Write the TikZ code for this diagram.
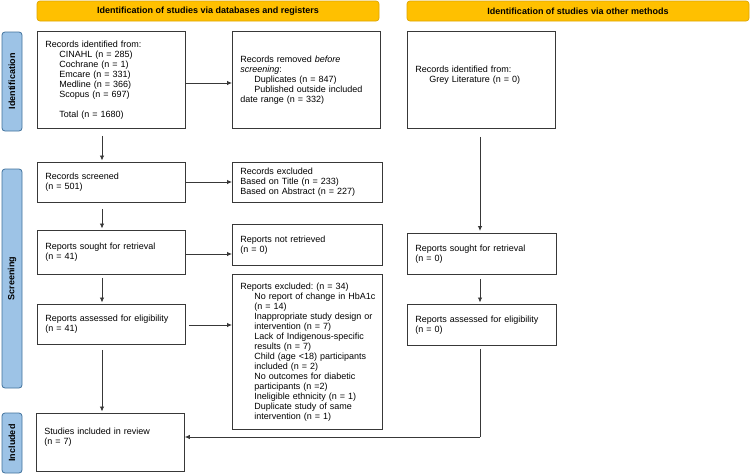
\documentclass[tikz,border=0pt]{standalone}
\usepackage{fontspec}
\setmainfont{Liberation Sans}
\usetikzlibrary{arrows.meta,calc}
\definecolor{hdr}{HTML}{FFC000}
\definecolor{hdrb}{HTML}{DDA500}
\definecolor{sidef}{HTML}{9DC3E6}
\definecolor{sideb}{HTML}{41719C}
\definecolor{ln}{HTML}{383838}
\newcommand{\ind}{\hspace*{14pt}}
\frenchspacing
\begin{document}
\begin{tikzpicture}[x=1pt,y=-1pt,
  box/.style={draw=ln, line width=0.8pt, rectangle, inner ysep=0pt, inner xsep=8pt,
    anchor=north west, font=\fontsize{9}{10}\selectfont, align=left},
  hdrbox/.style={draw=hdrb, fill=hdr, line width=0.7pt, rounded corners=3pt,
    minimum width=342pt, minimum height=20pt, inner sep=0pt,
    font=\bfseries\fontsize{9}{10}\selectfont},
  sidebox/.style={draw=sideb, fill=sidef, line width=0.8pt, rounded corners=3pt,
    rotate=90, minimum height=20pt, inner sep=0pt,
    font=\bfseries\fontsize{9}{10}\selectfont},
  arr/.style={draw=ln, line width=0.8pt, -{Latex[length=5pt,width=4.5pt]}},
  lnk/.style={draw=ln, line width=0.8pt}
]
\useasboundingbox (0,0) rectangle (750,474);

% headers
\node[hdrbox] (h1) at (208,11) {Identification of studies via databases and registers};
\node[hdrbox] (h2) at (578,11) {Identification of studies via other methods};

% side labels
\node[sidebox, minimum width=99pt] (s1) at (12,81.5) {Identification};
\node[sidebox, minimum width=219pt] (s2) at (12,278.5) {Screening};
\node[sidebox, minimum width=60pt] (s3) at (12,443) {Included};

% left column
\node[box, minimum width=148pt, minimum height=97pt, text width=132pt] (b1) at (37,31)
 {Records identified from:\\
  \ind CINAHL (n = 285)\\
  \ind Cochrane (n = 1)\\
  \ind Emcare (n = 331)\\
  \ind Medline (n = 366)\\
  \ind Scopus (n = 697)\\[10pt]
  \ind Total (n = 1680)};
\node[box, minimum width=148pt, minimum height=97pt, text width=132pt] (b2) at (232,31)
 {Records removed \textit{before}\\
  \textit{screening}:\\
  \ind Duplicates (n = 847)\\
  \ind Published outside included\\
  date range (n = 332)};
\node[box, minimum width=148pt, minimum height=40pt, text width=132pt] (b3) at (37,162)
 {Records screened\\(n = 501)};
\node[box, minimum width=150pt, minimum height=40pt, text width=134pt] (b4) at (232,162)
 {Records excluded\\Based on Title (n = 233)\\Based on Abstract (n = 227)};
\node[box, minimum width=148pt, minimum height=44pt, text width=132pt] (b5) at (37,230)
 {Reports sought for retrieval\\(n = 41)};
\node[box, minimum width=150pt, minimum height=41pt, text width=134pt] (b6) at (232,224)
 {Reports not retrieved\\(n = 0)};
\node[box, minimum width=148pt, minimum height=40pt, text width=132pt] (b7) at (37,304)
 {Reports assessed for eligibility\\(n = 41)};
\node[box, minimum width=150pt, minimum height=155pt, text width=134pt] (b8) at (232,274)
 {Reports excluded: (n = 34)\\
  \ind\mbox{No report of change in HbA1c}\\
  \ind (n = 14)\\
  \ind\mbox{Inappropriate study design or}\\
  \ind intervention (n = 7)\\
  \ind\mbox{Lack of Indigenous-specific}\\
  \ind results (n = 7)\\
  \ind\mbox{Child (age <18) participants}\\
  \ind included (n = 2)\\
  \ind\mbox{No outcomes for diabetic}\\
  \ind participants (n =2)\\
  \ind\mbox{Ineligible ethnicity (n = 1)}\\
  \ind\mbox{Duplicate study of same}\\
  \ind intervention (n = 1)};
\node[box, minimum width=148pt, minimum height=58pt, text width=132pt] (b9) at (36,413)
 {\parbox[c][58pt][t]{132pt}{\vspace*{15pt}Studies included in review\\(n = 7)}};

% right column
\node[box, minimum width=148pt, minimum height=97pt, text width=132pt] (r1) at (407,31)
 {\parbox[c][97pt][t]{132pt}{\vspace*{35pt}Records identified from:\\\ind Grey Literature (n = 0)}};
\node[box, minimum width=149pt, minimum height=41pt, text width=133pt] (r2) at (407,233)
 {Reports sought for retrieval\\(n = 0)};
\node[box, minimum width=149pt, minimum height=41pt, text width=133pt] (r3) at (407,304)
 {Reports assessed for eligibility\\(n = 0)};

% column guides
\coordinate (cx) at (102,0);
\coordinate (rx) at (480,0);
\coordinate (jn) at (480,437);

% connectors
\draw[arr] (b1.east |- 0,83) -- (b2.west |- 0,83);
\draw[arr, shorten <=7pt, shorten >=1.5pt] (b1.south -| cx) -- (b3.north -| cx);
\draw[arr] (b3.east |- 0,182) -- (b4.west |- 0,182);
\draw[arr, shorten <=6pt, shorten >=1.5pt] (b3.south -| cx) -- (b5.north -| cx);
\draw[arr] (b5.east |- 0,254) -- (b6.west |- 0,254);
\draw[arr, shorten <=3pt, shorten >=1.5pt] (b5.south -| cx) -- (b7.north -| cx);
\draw[arr, shorten <=3pt] (b7.east |- 0,325) -- (b8.west |- 0,325);
\draw[arr, shorten <=5pt, shorten >=1.5pt] (b7.south -| cx) -- (b9.north -| cx);
\draw[arr, shorten <=8pt, shorten >=2pt] (r1.south -| rx) -- (r2.north -| rx);
\draw[arr, shorten <=4pt, shorten >=1.5pt] (r2.south -| rx) -- (r3.north -| rx);
\draw[lnk, shorten <=3pt] (r3.south -| rx) -- (jn);
\draw[arr] (jn) -- (b9.east |- jn);
\end{tikzpicture}
\end{document}
